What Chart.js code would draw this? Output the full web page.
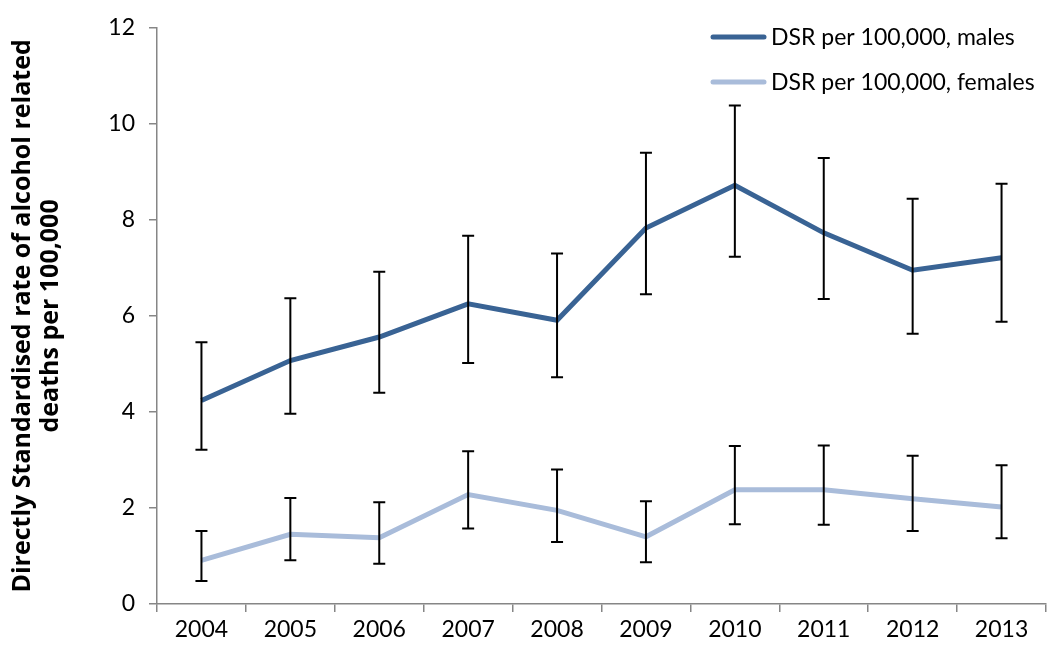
<!DOCTYPE html>
<html>
<head>
<meta charset="utf-8">
<script src="https://cdn.jsdelivr.net/npm/chart.js@4"></script>
<style>
  html, body { margin: 0; padding: 0; background: #fff; }
  #wrap { width: 1050px; height: 650px; }
</style>
</head>
<body>
<div id="wrap"><canvas id="dsrChart" width="1050" height="650"></canvas></div>
<script>
// Years on the x axis
const years = ['2004', '2005', '2006', '2007', '2008', '2009', '2010', '2011', '2012', '2013'];

// DSR per 100,000, males, with confidence limits
const males = [4.24, 5.07, 5.56, 6.25, 5.91, 7.83, 8.72, 7.73, 6.95, 7.21];
const malesUpper = [5.45, 6.37, 6.92, 7.67, 7.30, 9.40, 10.38, 9.29, 8.44, 8.75];
const malesLower = [3.21, 3.96, 4.40, 5.02, 4.72, 6.45, 7.23, 6.35, 5.63, 5.88];

// DSR per 100,000, females, with confidence limits
const females = [0.91, 1.45, 1.38, 2.28, 1.95, 1.40, 2.38, 2.38, 2.19, 2.02];
const femalesUpper = [1.52, 2.21, 2.12, 3.18, 2.80, 2.14, 3.29, 3.30, 3.09, 2.89];
const femalesLower = [0.48, 0.91, 0.84, 1.57, 1.29, 0.87, 1.66, 1.65, 1.52, 1.37];

// Y axis ticks
const yTicks = [0, 2, 4, 6, 8, 10, 12];

const FONT = 'Lato, "DejaVu Sans", sans-serif';
const AXIS_GREY = '#868686';

// Error bars drawn on top of the lines
const errorBars = {
  id: 'errorBars',
  afterDatasetsDraw(chart) {
    const { ctx, scales: { x, y } } = chart;
    const limits = [[malesLower, malesUpper], [femalesLower, femalesUpper]];
    ctx.save();
    ctx.strokeStyle = '#000';
    ctx.lineWidth = 2;
    limits.forEach(([lo, hi]) => {
      years.forEach((yr, i) => {
        const px = x.getPixelForValue(i);
        const yHi = y.getPixelForValue(hi[i]);
        const yLo = y.getPixelForValue(lo[i]);
        ctx.beginPath();
        ctx.moveTo(px, yHi); ctx.lineTo(px, yLo);
        ctx.moveTo(px - 6, yHi); ctx.lineTo(px + 6, yHi);
        ctx.moveTo(px - 6, yLo); ctx.lineTo(px + 6, yLo);
        ctx.stroke();
      });
    });
    ctx.restore();
  }
};

// Legend drawn in the top right corner, inside the plot
const cornerLegend = {
  id: 'cornerLegend',
  afterDraw(chart) {
    const { ctx } = chart;
    ctx.save();
    ctx.font = '23px ' + FONT;
    ctx.textBaseline = 'middle';
    ctx.lineCap = 'round';
    chart.data.datasets.forEach((ds, i) => {
      const yy = 37 + i * 45;
      ctx.strokeStyle = ds.borderColor;
      ctx.lineWidth = 5;
      ctx.beginPath();
      ctx.moveTo(713, yy); ctx.lineTo(764, yy);
      ctx.stroke();
      ctx.fillStyle = '#000';
      ctx.fillText(ds.label, 771, yy + 1);
    });
    ctx.restore();
  }
};

const data = {
  labels: years,
  datasets: [
    {
      label: 'DSR per 100,000, males',
      data: males,
      borderColor: '#396394',
      backgroundColor: '#396394',
      borderWidth: 5,
      pointRadius: 0,
      tension: 0,
    },
    {
      label: 'DSR per 100,000, females',
      data: females,
      borderColor: '#a9bcda',
      backgroundColor: '#a9bcda',
      borderWidth: 5,
      pointRadius: 0,
      tension: 0,
    },
  ],
};

const config = {
  type: 'line',
  data: data,
  options: {
    responsive: false,
    animation: false,
    layout: { padding: { top: 26, right: 4, left: 8, bottom: 0 } },
    plugins: {
      legend: { display: false },
      tooltip: { enabled: false },
    },
    scales: {
      x: {
        offset: true,
        grid: {
          offset: true,
          drawOnChartArea: false,
          color: AXIS_GREY,
          tickLength: 8,
          lineWidth: 1.5,
        },
        border: { color: AXIS_GREY, width: 1.5 },
        ticks: { color: '#000', padding: 4, font: { size: 23, family: FONT } },
        afterFit: (s) => { s.height = 46; },
      },
      y: {
        min: 0,
        max: 12,
        afterBuildTicks: (s) => { s.ticks = yTicks.map(v => ({ value: v })); },
        grid: {
          drawOnChartArea: false,
          color: AXIS_GREY,
          tickLength: 8,
          lineWidth: 1.5,
        },
        border: { color: AXIS_GREY, width: 1.5 },
        ticks: { color: '#000', padding: 14, font: { size: 23, family: FONT } },
        title: {
          display: true,
          text: ['Directly Standardised rate of alcohol related', 'deaths per 100,000'],
          color: '#000',
          font: { size: 25, weight: 'bold', family: '"Open Sans", ' + FONT, lineHeight: 1.15 },
          padding: { top: 0, bottom: 0 },
        },
        afterFit: (s) => { s.width = 149; },
      },
    },
  },
  plugins: [errorBars, cornerLegend],
};

new Chart(document.getElementById('dsrChart').getContext('2d'), config);
</script>
</body>
</html>
